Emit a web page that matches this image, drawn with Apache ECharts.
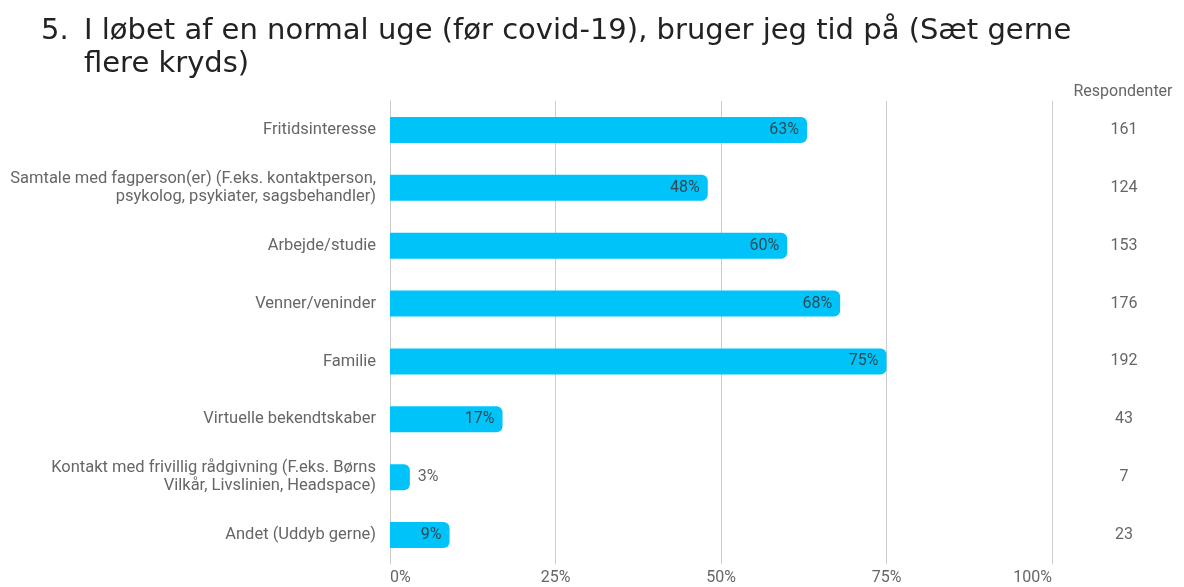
<!DOCTYPE html>
<html>
<head>
<meta charset="utf-8">
<script src="https://cdn.jsdelivr.net/npm/echarts@6/dist/echarts.min.js"></script>
<style>
  html, body { margin: 0; padding: 0; background: #fff; }
  #chart { width: 1184px; height: 587px; }
</style>
</head>
<body>
<div id="chart"></div>
<script>
// Survey answers, in the order they are listed
const categories = [
  'Fritidsinteresse',
  'Samtale med fagperson(er) (F.eks. kontaktperson,\npsykolog, psykiater, sagsbehandler)',
  'Arbejde/studie',
  'Venner/veninder',
  'Familie',
  'Virtuelle bekendtskaber',
  'Kontakt med frivillig rådgivning (F.eks. Børns\nVilkår, Livslinien, Headspace)',
  'Andet (Uddyb gerne)'
];
// Share of respondents (%) per answer
const percentages = [63, 48, 60, 68, 75, 17, 3, 9];
// Number of respondents per answer
const respondents = [161, 124, 153, 176, 192, 43, 7, 23];
const xTicks = [0, 25, 50, 75, 100];

const barColor = '#00C4F9';
const gridColor = '#cccccc';
const textGrey = '#666666';
const titleStyle = {
  fontFamily: 'DejaVu Sans', fontSize: 29, fontWeight: 'normal', color: '#222', lineHeight: 33
};

const chart = echarts.init(document.getElementById('chart'), null, { renderer: 'canvas' });

// Bars too short to hold their label get it placed just outside
const barData = percentages.map(v => {
  const item = { value: v };
  if (v < 5) {
    item.label = { position: 'right', distance: 8, color: textGrey };
  }
  return item;
});

chart.setOption({
  animation: false,
  backgroundColor: '#ffffff',
  textStyle: { fontFamily: 'Roboto' },
  title: [
    { text: '5.', left: 41, top: 15, padding: 0, textStyle: titleStyle },
    {
      text: 'I løbet af en normal uge (før covid-19), bruger jeg tid på (Sæt gerne\nflere kryds)',
      left: 84, top: 15, padding: 0, textStyle: titleStyle
    }
  ],
  graphic: [
    {
      type: 'text',
      x: 1123, y: 84,
      style: {
        text: 'Respondenter', fontFamily: 'Roboto', fontSize: 16,
        fill: textGrey, align: 'center'
      }
    }
  ],
  grid: { left: 390, right: 132, top: 101, bottom: 23, containLabel: false },
  xAxis: {
    type: 'value',
    min: 0, max: 100, interval: 25,
    axisLine: { show: false },
    axisTick: { show: false },
    splitLine: { show: true, lineStyle: { color: gridColor, width: 1 } },
    axisLabel: {
      color: textGrey, fontSize: 16, margin: 6,
      alignMinLabel: 'left', alignMaxLabel: 'right',
      formatter: v => (xTicks.includes(v) ? v + '%' : '')
    }
  },
  yAxis: [
    {
      type: 'category',
      inverse: true,
      data: categories,
      axisLine: { show: true, lineStyle: { color: gridColor } },
      axisTick: { show: false },
      axisLabel: { color: textGrey, fontSize: 16.5, margin: 14, lineHeight: 18, align: 'right' }
    },
    {
      type: 'category',
      inverse: true,
      position: 'right',
      data: respondents.map(String),
      axisLine: { show: false },
      axisTick: { show: false },
      axisLabel: { color: textGrey, fontSize: 16, margin: 72, align: 'center' }
    }
  ],
  series: [
    {
      type: 'bar',
      yAxisIndex: 0,
      data: barData,
      barWidth: 26,
      itemStyle: { color: barColor, borderRadius: [0, 6, 6, 0] },
      label: {
        show: true,
        position: 'insideRight',
        distance: 8,
        color: '#2b4a55',
        fontSize: 16,
        formatter: p => p.value + '%'
      }
    }
  ]
});
</script>
</body>
</html>
